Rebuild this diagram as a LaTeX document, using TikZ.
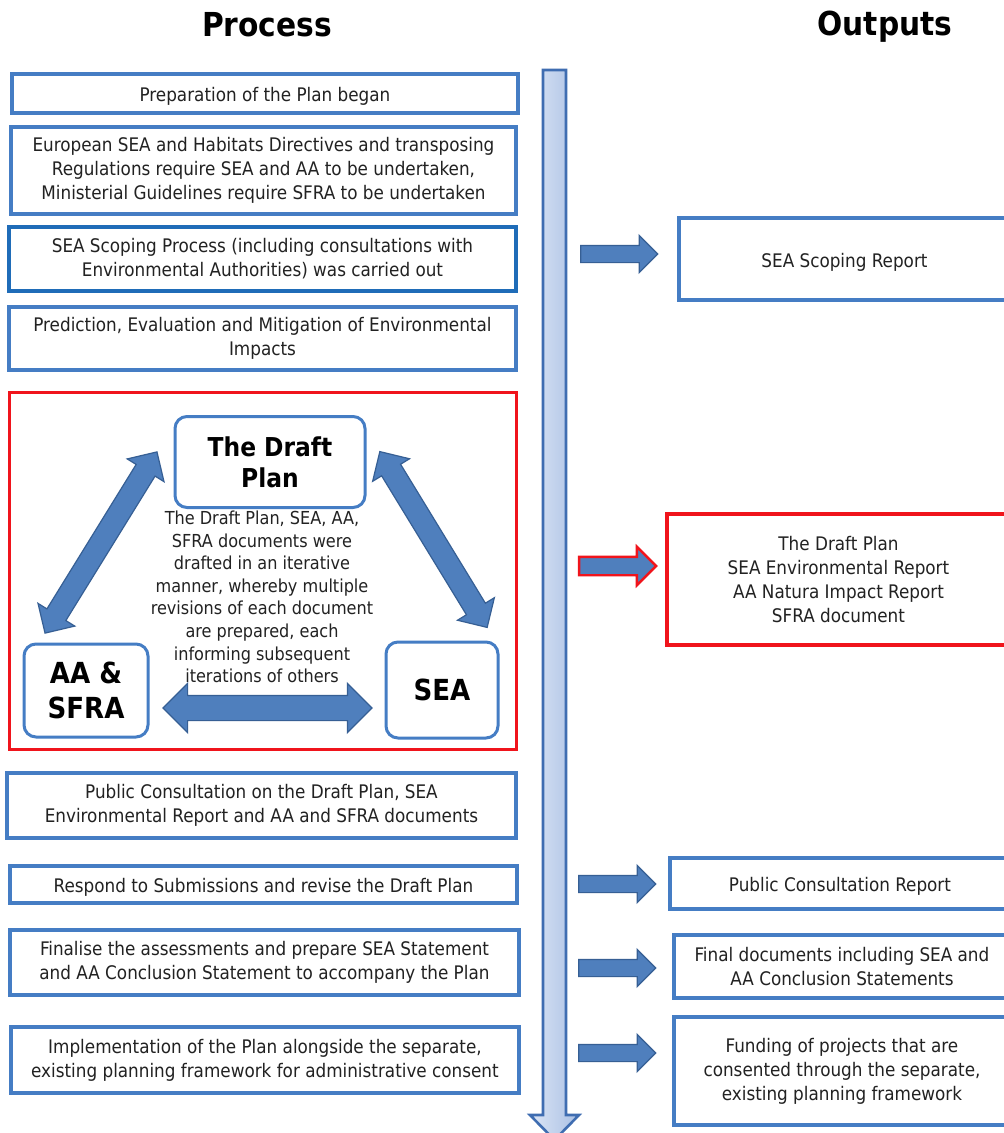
\documentclass[tikz,border=0pt]{standalone}
\usepackage{fontspec}
\setmainfont{DejaVu Sans Condensed}
\usetikzlibrary{shapes.arrows}
\definecolor{boxblue}{HTML}{457DC4}
\definecolor{boxdark}{HTML}{1F6CB8}
\definecolor{arrblue}{HTML}{4F7FBD}
\definecolor{arrdark}{HTML}{365F94}
\definecolor{redline}{HTML}{F0141C}
\definecolor{txt}{HTML}{222222}
\definecolor{vlight}{HTML}{DCE6F5}
\definecolor{vmid}{HTML}{A9BFE4}
\definecolor{vedge}{HTML}{3F6DB1}
\newcommand{\bodyfs}{\fontsize{18.7}{24}\selectfont}
\tikzset{
  pbox/.style={draw=boxblue, line width=3.2pt, fill=white, align=center, inner sep=2pt, text=txt, font=\bodyfs,
     execute at begin node={\rule{0pt}{20pt}}},
  rbox/.style={draw=boxblue, line width=3pt, rounded corners=12pt, fill=white, align=center, text=black, inner sep=2pt},
  barrow/.style={single arrow, draw=arrdark, fill=arrblue, line width=1.2pt, inner xsep=0pt, inner ysep=8pt,
     minimum width=36pt, single arrow head extend=10pt, minimum height=77pt},
  darrow/.style={double arrow, draw=arrdark, fill=arrblue, line width=1.2pt, inner xsep=0pt, inner ysep=10.5pt,
     double arrow head extend=10.5pt},
  title/.style={font=\fontsize{33}{38}\selectfont\bfseries, text=black}
}
\begin{document}
\begin{tikzpicture}[x=1pt,y=-1pt]
\useasboundingbox[fill=white] (0,0) rectangle (1004,1133);

% titles
\node[title] (tproc) at (267,25) {Process};
\node[title] (tout) at (885,27) {Outputs};

% vertical timeline arrow
\draw[draw=vedge, line width=2.6pt, left color=vlight, right color=vmid]
  (543,70) -- (566,70) -- (566,1115) -- (579,1115) -- (554.5,1140) -- (530,1115) -- (543,1115) -- cycle;

% process boxes
\node[pbox, minimum width=506pt, minimum height=39pt] (p1) at (265,93.5) {Preparation of the Plan began};
\node[pbox, minimum width=505pt, minimum height=87pt] (p2) at (263.5,170.5)
  {European SEA and Habitats Directives and transposing\\Regulations require SEA and AA to be undertaken,\\Ministerial Guidelines require SFRA to be undertaken};
\node[pbox, draw=boxdark, minimum width=507pt, minimum height=64pt] (p3) at (262.5,259)
  {SEA Scoping Process (including consultations with\\Environmental Authorities) was carried out};
\node[pbox, minimum width=507pt, minimum height=63pt] (p4) at (262.5,338.5)
  {Prediction, Evaluation and Mitigation of Environmental\\Impacts};

% red iterative box
\node[draw=redline, line width=3pt, minimum width=507pt, minimum height=357pt] (red) at (262.5,570.5) {};
\node[rbox, minimum width=190pt, minimum height=91pt, font=\fontsize{26}{31}\selectfont\bfseries] (draft) at (270,462) {The Draft\\Plan};
\node[rbox, minimum width=124pt, minimum height=93pt, font=\fontsize{29}{35}\selectfont\bfseries] (aasfra) at (86,690.5) {AA \&\\SFRA};
\node[rbox, minimum width=112pt, minimum height=96pt, font=\fontsize{29}{35}\selectfont\bfseries] (sea) at (442,690) {SEA};
\node[align=center, text=txt, font=\fontsize{17.9}{22.6}\selectfont] (ctext) at (262,597)
  {The Draft Plan, SEA, AA,\\SFRA documents were\\drafted in an iterative\\manner, whereby multiple\\revisions of each document\\are prepared, each\\informing subsequent\\iterations of others};
\node[darrow, rotate=58.3, minimum height=213pt, minimum width=42pt] (dl) at (101,542.5) {};
\node[darrow, rotate=-58.6, minimum height=206pt, minimum width=42pt] (dr) at (433.5,539.5) {};
\node[darrow, minimum height=209pt, minimum width=48pt, inner ysep=12pt, double arrow head extend=12pt] (dh) at (267.5,708) {};

% lower process boxes
\node[pbox, minimum width=509pt, minimum height=65pt] (p5) at (261.5,805.5)
  {Public Consultation on the Draft Plan, SEA\\Environmental Report and AA and SFRA documents};
\node[pbox, minimum width=507pt, minimum height=37pt] (p6) at (263.5,884.5)
  {Respond to Submissions and revise the Draft Plan};
\node[pbox, minimum width=509pt, minimum height=65pt] (p7) at (264.5,962.5)
  {Finalise the assessments and prepare SEA Statement\\and AA Conclusion Statement to accompany the Plan};
\node[pbox, minimum width=508pt, minimum height=66pt] (p8) at (265,1060)
  {Implementation of the Plan alongside the separate,\\existing planning framework for administrative consent};

% output arrows
\node[barrow] (a1) at (615,254) {};
\node[barrow, draw=redline, line width=2.4pt] (a2) at (613,566) {};
\node[barrow] (a3) at (613,884) {};
\node[barrow] (a4) at (613,968) {};
\node[barrow] (a5) at (613,1053) {};

% output boxes
\node[pbox, minimum width=331pt, minimum height=82pt] (o1) at (844.5,259) {SEA Scoping Report};
\node[pbox, draw=redline, minimum width=343pt, minimum height=131pt] (o2) at (838.5,579.5)
  {The Draft Plan\\SEA Environmental Report\\AA Natura Impact Report\\SFRA document};
\node[pbox, minimum width=340pt, minimum height=51pt] (o3) at (840,883.5) {Public Consultation Report};
\node[pbox, minimum width=336pt, minimum height=63pt] (o4) at (842,966.5)
  {Final documents including SEA and\\AA Conclusion Statements};
\node[pbox, minimum width=336pt, minimum height=108pt] (o5) at (842,1071)
  {Funding of projects that are\\consented through the separate,\\existing planning framework};
\end{tikzpicture}
\end{document}
